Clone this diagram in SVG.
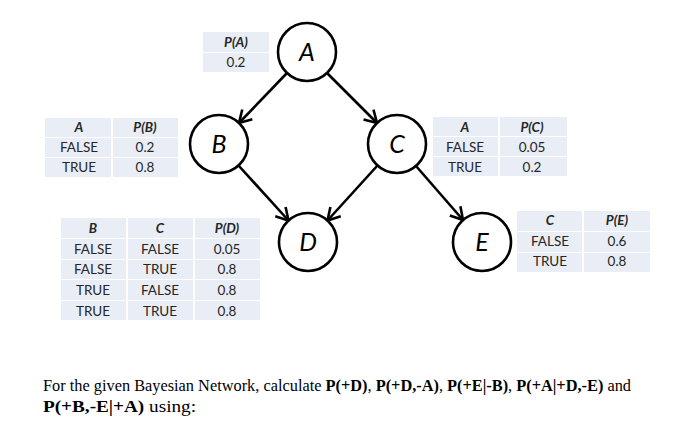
<svg xmlns="http://www.w3.org/2000/svg" width="685" height="428" viewBox="0 0 685 428">
<style>
.cell{fill:#e9edf5}
.t{font-family:Lato,"Liberation Sans",sans-serif;font-size:13.5px;fill:#262626;text-anchor:middle}
.h{font-weight:bold;font-style:italic}
.node{fill:#fff;stroke:#000;stroke-width:2.6}
.lbl{font-family:Lato,"Liberation Sans",sans-serif;font-size:25px;font-style:italic;font-weight:normal;text-anchor:middle;fill:#000}
.edge{stroke:#000;stroke-width:2.6;fill:none;marker-end:url(#arr)}
.q{font-family:"Liberation Serif",serif;font-size:16px;fill:#000}
.b{font-weight:bold}
</style>
<defs>
<marker id="arr" markerUnits="userSpaceOnUse" markerWidth="20" markerHeight="20" viewBox="-14 -10 16 20" refX="0" refY="0" orient="auto">
<path d="M-12,-7 L0,0 L-12,7" fill="none" stroke="#000" stroke-width="2.6" stroke-linejoin="miter"/>
</marker>
</defs>
<rect width="685" height="428" fill="#fff"/>

<g id="table-A">
<rect class="cell" x="203" y="32" width="66" height="20"/>
<rect class="cell" x="203" y="53" width="66" height="19"/>
<text class="t h" x="236" y="47">P(A)</text>
<text class="t" x="236" y="67">0.2</text>
</g>

<g id="table-B">
<rect class="cell" x="45" y="118" width="66" height="19"/>
<rect class="cell" x="113" y="118" width="65" height="19"/>
<rect class="cell" x="45" y="138" width="66" height="19"/>
<rect class="cell" x="113" y="138" width="65" height="19"/>
<rect class="cell" x="45" y="158" width="66" height="19"/>
<rect class="cell" x="113" y="158" width="65" height="19"/>
<text class="t h" x="79" y="132">A</text>
<text class="t h" x="145" y="132">P(B)</text>
<text class="t" x="79" y="152">FALSE</text>
<text class="t" x="145" y="152">0.2</text>
<text class="t" x="79" y="172">TRUE</text>
<text class="t" x="145" y="172">0.8</text>
</g>

<g id="table-C">
<rect class="cell" x="433" y="117" width="65" height="19"/>
<rect class="cell" x="500" y="117" width="67" height="19"/>
<rect class="cell" x="433" y="137" width="65" height="19"/>
<rect class="cell" x="500" y="137" width="67" height="19"/>
<rect class="cell" x="433" y="157" width="65" height="19"/>
<rect class="cell" x="500" y="157" width="67" height="19"/>
<text class="t h" x="465" y="131.5">A</text>
<text class="t h" x="532" y="131.5">P(C)</text>
<text class="t" x="465" y="151.5">FALSE</text>
<text class="t" x="532" y="151.5">0.05</text>
<text class="t" x="465" y="171.5">TRUE</text>
<text class="t" x="532" y="171.5">0.2</text>
</g>

<g id="table-D">
<rect class="cell" x="61" y="218" width="65" height="20"/>
<rect class="cell" x="128" y="218" width="65" height="20"/>
<rect class="cell" x="195" y="218" width="65" height="20"/>
<rect class="cell" x="61" y="239" width="65" height="20"/>
<rect class="cell" x="128" y="239" width="65" height="20"/>
<rect class="cell" x="195" y="239" width="65" height="20"/>
<rect class="cell" x="61" y="260" width="65" height="19"/>
<rect class="cell" x="128" y="260" width="65" height="19"/>
<rect class="cell" x="195" y="260" width="65" height="19"/>
<rect class="cell" x="61" y="280" width="65" height="20"/>
<rect class="cell" x="128" y="280" width="65" height="20"/>
<rect class="cell" x="195" y="280" width="65" height="20"/>
<rect class="cell" x="61" y="301" width="65" height="19"/>
<rect class="cell" x="128" y="301" width="65" height="19"/>
<rect class="cell" x="195" y="301" width="65" height="19"/>
<text class="t h" x="93" y="233">B</text>
<text class="t h" x="160" y="233">C</text>
<text class="t h" x="227" y="233">P(D)</text>
<text class="t" x="93" y="254">FALSE</text>
<text class="t" x="160" y="254">FALSE</text>
<text class="t" x="227" y="254">0.05</text>
<text class="t" x="93" y="274">FALSE</text>
<text class="t" x="160" y="274">TRUE</text>
<text class="t" x="227" y="274">0.8</text>
<text class="t" x="93" y="295">TRUE</text>
<text class="t" x="160" y="295">FALSE</text>
<text class="t" x="227" y="295">0.8</text>
<text class="t" x="93" y="316">TRUE</text>
<text class="t" x="160" y="316">TRUE</text>
<text class="t" x="227" y="316">0.8</text>
</g>

<g id="table-E">
<rect class="cell" x="517" y="211" width="65" height="20"/>
<rect class="cell" x="584" y="211" width="66" height="20"/>
<rect class="cell" x="517" y="232" width="65" height="20"/>
<rect class="cell" x="584" y="232" width="66" height="20"/>
<rect class="cell" x="517" y="253" width="65" height="19"/>
<rect class="cell" x="584" y="253" width="66" height="19"/>
<text class="t h" x="550" y="225">C</text>
<text class="t h" x="617" y="225">P(E)</text>
<text class="t" x="550" y="246">FALSE</text>
<text class="t" x="617" y="246">0.6</text>
<text class="t" x="550" y="266">TRUE</text>
<text class="t" x="617" y="266">0.8</text>
</g>

<g id="connectors">
<line class="edge" x1="287" y1="73" x2="239" y2="123"/>
<line class="edge" x1="327" y1="73" x2="377" y2="123"/>
<line class="edge" x1="238.5" y1="165.5" x2="288.5" y2="220.5"/>
<line class="edge" x1="377.5" y1="165.5" x2="327.5" y2="220.5"/>
<line class="edge" x1="416" y1="166" x2="463" y2="220"/>
</g>

<g id="node-A"><circle class="node" cx="307" cy="52" r="29"/><text class="lbl" x="307" y="61">A</text></g>
<g id="node-B"><circle class="node" cx="219" cy="144" r="29"/><text class="lbl" x="219" y="153">B</text></g>
<g id="node-C"><circle class="node" cx="397" cy="144" r="29"/><text class="lbl" x="397" y="153">C</text></g>
<g id="node-D"><circle class="node" cx="308" cy="242" r="29"/><text class="lbl" x="308" y="251">D</text></g>
<g id="node-E"><circle class="node" cx="482" cy="242" r="29"/><text class="lbl" x="482" y="251">E</text></g>

<text class="q" x="43" y="391" textLength="588" lengthAdjust="spacingAndGlyphs">For the given Bayesian Network, calculate <tspan class="b">P(+D)</tspan>, <tspan class="b">P(+D,-A)</tspan>, <tspan class="b">P(+E|-B)</tspan>, <tspan class="b">P(+A|+D,-E)</tspan> and</text>
<text class="q" x="43" y="412" textLength="153" lengthAdjust="spacingAndGlyphs"><tspan class="b">P(+B,-E|+A)</tspan> using:</text>
</svg>
